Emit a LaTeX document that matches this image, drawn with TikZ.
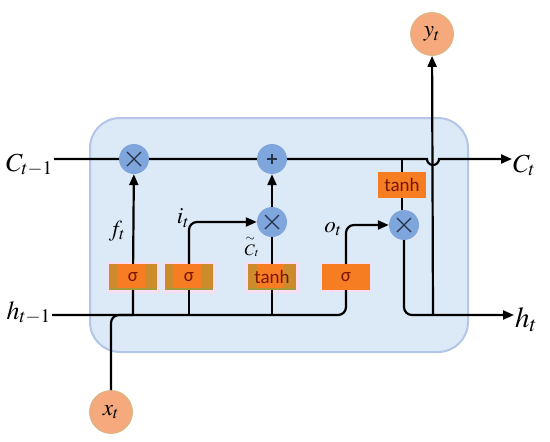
\RequirePackage{fix-cm}
\documentclass[tikz,border=0pt]{standalone}
\usepackage{mathptmx}
\usepackage{fontspec}
\newfontfamily\gatefont{Carlito}
\usetikzlibrary{arrows.meta,positioning,calc}

\definecolor{cellfill}{HTML}{DCE9F6}
\definecolor{celledge}{HTML}{B3C6E8}
\definecolor{opblue}{HTML}{7FA6DC}
\definecolor{opmark}{HTML}{26324A}
\definecolor{gateorange}{HTML}{F67D22}
\definecolor{gategold}{HTML}{CC8C2C}
\definecolor{gateolive}{HTML}{A49A3A}
\definecolor{halo}{HTML}{FADCF3}
\definecolor{gatetext}{HTML}{7A1500}
\definecolor{ionode}{HTML}{F5A97D}
\definecolor{ioedge}{HTML}{D2B884}

\begin{document}
\begin{tikzpicture}[x=1pt,y=-1pt,>={Triangle[length=11pt,width=9pt]},
  line/.style={line width=2.2pt},
  op/.style={circle,fill=opblue,minimum size=30pt,inner sep=0pt},
  mulop/.style={op,path picture={
      \draw[opmark,line width=1.1pt] ([shift={(-7pt,-7pt)}]path picture bounding box.center)
        -- ([shift={(7pt,7pt)}]path picture bounding box.center);
      \draw[opmark,line width=1.1pt] ([shift={(-7pt,7pt)}]path picture bounding box.center)
        -- ([shift={(7pt,-7pt)}]path picture bounding box.center);}},
  addop/.style={op,path picture={
      \draw[opmark,line width=2pt] ([xshift=-5pt]path picture bounding box.center)
        -- ([xshift=5pt]path picture bounding box.center);
      \draw[opmark,line width=2pt] ([yshift=-5pt]path picture bounding box.center)
        -- ([yshift=5pt]path picture bounding box.center);}},
  gate/.style={rectangle,fill=gateorange,minimum width=48pt,minimum height=26pt,
    inner sep=0pt,text=gatetext,font={\gatefont\fontsize{19}{20}\selectfont}},
  goldgate/.style={gate,preaction={draw=halo,line width=5pt},
    path picture={
      \fill[gategold] (path picture bounding box.south west) rectangle
        ([xshift=9pt]path picture bounding box.north west);
      \fill[gategold] (path picture bounding box.south east) rectangle
        ([xshift=-12pt]path picture bounding box.north east);
      \fill[gateolive] (path picture bounding box.south west) rectangle
        ([yshift=2pt]path picture bounding box.south east);}},
  io/.style={circle,fill=ionode,draw=ioedge,line width=0.8pt,minimum size=43pt,
    inner sep=0pt,font=\fontsize{23}{24}\selectfont},
  lbl/.style={inner sep=1pt,font=\fontsize{26}{28}\selectfont},
  gatelbl/.style={inner sep=0pt,font=\fontsize{23}{24}\selectfont}]

  \useasboundingbox (0,0) rectangle (550,442);

  % cell
  \draw[fill=cellfill,draw=celledge,line width=2pt,rounded corners=30pt]
    (90,118) rectangle (468,352);

  % operations
  \node[mulop] (mulf) at (134,159) {};
  \node[addop] (add) at (272,159) {};
  \node[mulop] (muli) at (272,222) {};
  \node[mulop] (mulo) at (404,225) {};

  % gates
  \node[goldgate] (sigf) at (133,277) {σ};
  \node[goldgate] (sigi) at (189,277) {σ};
  \node[goldgate] (tanhc) at (272,277) {tanh};
  \node[gate,preaction={draw=halo,line width=3pt}] (sigo) at (346,277) {σ};
  \node[gate] (tanho) at (402,185) {tanh};

  % inputs and outputs
  \node[io] (xt) at (111,412) {$x_t$};
  \node[io] (yt) at (432,34) {$y_t$};
  \node[lbl,anchor=base east] (Cin) at (54,171) {$C_{t-1}$};
  \node[lbl,anchor=base east] (hin) at (52,319) {$h_{t-1}$};
  \node[lbl,anchor=base west] (Cout) at (512,172) {$C_t$};
  \node[lbl,anchor=base west,font=\fontsize{29}{30}\selectfont] (hout) at (514,327) {$h_t$};

  % gate labels
  \node[gatelbl] (ft) at (117,231) {$f_t$};
  \node[gatelbl] (it) at (183,218) {$i_t$};
  \node[gatelbl] (ot) at (333,229) {$o_t$};
  \node[gatelbl,font=\fontsize{16}{17}\selectfont] (ctil) at (252,246) {$\stackrel{\sim}{C}_t$};

  \coordinate (hl) at (0,315);
  \coordinate (cross) at (433,159);

  % cell state
  \draw[line,->] (Cin.east |- mulf) -- (mulf) -- (add) -- ([xshift=-6pt]cross)
    arc[start angle=180,end angle=360,radius=6pt] -- (Cout.west |- mulf);

  % hidden state and input
  \draw[line,rounded corners=8pt] (hin.east |- hl) -- (sigo |- hl) -- (sigo.south);
  \draw[line,rounded corners=8pt] (xt) -- (xt |- hl) -- (sigf |- hl);

  % forget gate
  \draw[line,->] (sigf |- hl) -- (sigf) -- (mulf);
  % input gate
  \draw[line] (sigi |- hl) -- (sigi);
  \draw[line,->,rounded corners=8pt] (sigi) -- (sigi |- muli) -- (muli);
  \draw[line] (tanhc |- hl) -- (tanhc) -- (muli);
  \draw[line,->] (muli) -- (add);
  % output gate
  \draw[line,->,rounded corners=8pt] (sigo) -- (sigo |- mulo) -- (mulo);
  \draw[line] (tanho |- add) -- (tanho) -- (tanho |- mulo.north);
  \draw[line,->,rounded corners=8pt] (mulo) -- (mulo |- hl) -- (hout.west |- hl);
  \draw[line,->] (cross |- hl) -- (yt);
\end{tikzpicture}
\end{document}
